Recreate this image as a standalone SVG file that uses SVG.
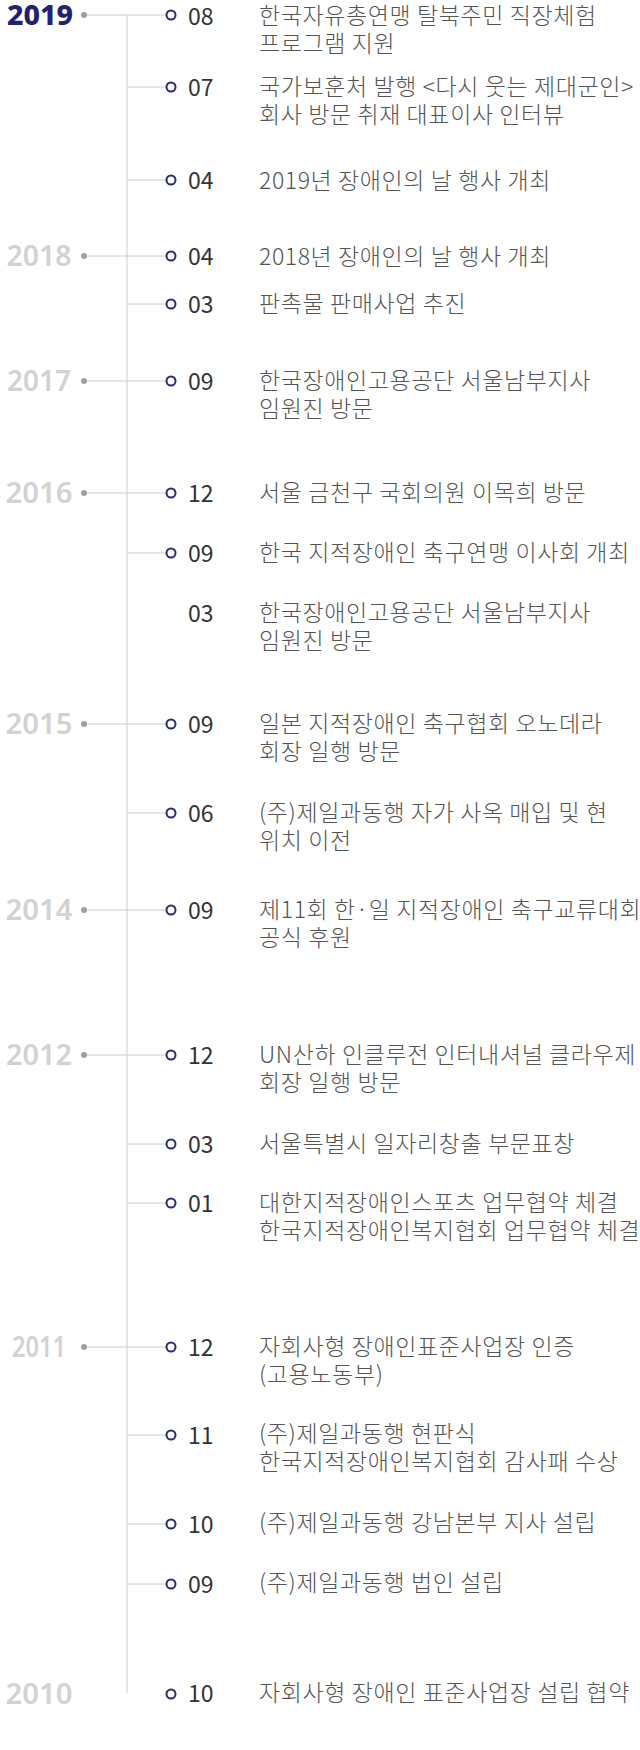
<svg xmlns="http://www.w3.org/2000/svg" width="640" height="1750" viewBox="0 0 640 1750">
<style>
.yr{font-family:"Noto Sans","Liberation Sans",sans-serif;font-weight:600;font-size:28px;fill:#d2d2d2;text-anchor:middle}
.yr.cur{fill:#22226e;font-weight:800}
.mo{font-family:"Noto Sans CJK KR","Noto Sans",sans-serif;font-size:23px;fill:#333}
.ds{font-family:"Noto Sans CJK KR","Noto Sans",sans-serif;font-weight:300;font-size:23px;letter-spacing:0.6px;fill:#555}
.ln{stroke:#cccccc;stroke-width:1;fill:none}
.yd{fill:#a0a0a0}
.mc{fill:#fff;stroke:#2a2a78;stroke-width:2}
</style>
<rect width="640" height="1750" fill="#fff"/>
<g id="connectors">
<line class="ln" x1="127" y1="15" x2="127" y2="1693"/>
<line class="ln" x1="84" y1="15" x2="166" y2="15"/>
<line class="ln" x1="127" y1="87" x2="166" y2="87"/>
<line class="ln" x1="127" y1="180" x2="166" y2="180"/>
<line class="ln" x1="84" y1="256" x2="166" y2="256"/>
<line class="ln" x1="127" y1="304" x2="166" y2="304"/>
<line class="ln" x1="84" y1="381" x2="166" y2="381"/>
<line class="ln" x1="84" y1="493" x2="166" y2="493"/>
<line class="ln" x1="127" y1="553" x2="166" y2="553"/>
<line class="ln" x1="84" y1="724" x2="166" y2="724"/>
<line class="ln" x1="127" y1="813" x2="166" y2="813"/>
<line class="ln" x1="84" y1="910" x2="166" y2="910"/>
<line class="ln" x1="84" y1="1055" x2="166" y2="1055"/>
<line class="ln" x1="127" y1="1144" x2="166" y2="1144"/>
<line class="ln" x1="127" y1="1203" x2="166" y2="1203"/>
<line class="ln" x1="84" y1="1347" x2="166" y2="1347"/>
<line class="ln" x1="127" y1="1435" x2="166" y2="1435"/>
<line class="ln" x1="127" y1="1524" x2="166" y2="1524"/>
<line class="ln" x1="127" y1="1584" x2="166" y2="1584"/>
</g>
<g id="years">
<g id="y2019"><text class="yr cur" x="40" y="25" textLength="66" lengthAdjust="spacingAndGlyphs">2019</text><circle class="yd" cx="84" cy="15" r="3"/></g>
<g id="y2018"><text class="yr" x="39" y="266" textLength="65" lengthAdjust="spacingAndGlyphs">2018</text><circle class="yd" cx="84" cy="256" r="3"/></g>
<g id="y2017"><text class="yr" x="39" y="391" textLength="64" lengthAdjust="spacingAndGlyphs">2017</text><circle class="yd" cx="84" cy="381" r="3"/></g>
<g id="y2016"><text class="yr" x="39" y="503" textLength="67" lengthAdjust="spacingAndGlyphs">2016</text><circle class="yd" cx="84" cy="493" r="3"/></g>
<g id="y2015"><text class="yr" x="39" y="734" textLength="67" lengthAdjust="spacingAndGlyphs">2015</text><circle class="yd" cx="84" cy="724" r="3"/></g>
<g id="y2014"><text class="yr" x="39" y="920" textLength="67" lengthAdjust="spacingAndGlyphs">2014</text><circle class="yd" cx="84" cy="910" r="3"/></g>
<g id="y2012"><text class="yr" x="39" y="1065" textLength="66" lengthAdjust="spacingAndGlyphs">2012</text><circle class="yd" cx="84" cy="1055" r="3"/></g>
<g id="y2011"><text class="yr" x="39" y="1357" textLength="54" lengthAdjust="spacingAndGlyphs">2011</text><circle class="yd" cx="84" cy="1347" r="3"/></g>
<g id="y2010"><text class="yr" x="39" y="1704" textLength="67" lengthAdjust="spacingAndGlyphs">2010</text></g>
</g>
<g id="events">
<g id="e2019-08"><circle class="mc" cx="171" cy="15" r="4.5"/><text class="mo" x="188" y="25">08</text><text class="ds" x="259" y="24">한국자유총연맹 탈북주민 직장체험<tspan x="259" dy="28">프로그램 지원</tspan></text></g>
<g id="e2019-07"><circle class="mc" cx="171" cy="87" r="4.5"/><text class="mo" x="188" y="96">07</text><text class="ds" x="259" y="95">국가보훈처 발행 &lt;다시 웃는 제대군인&gt;<tspan x="259" dy="28">회사 방문 취재 대표이사 인터뷰</tspan></text></g>
<g id="e2019-04"><circle class="mc" cx="171" cy="180" r="4.5"/><text class="mo" x="188" y="189">04</text><text class="ds" x="259" y="189">2019년 장애인의 날 행사 개최</text></g>
<g id="e2018-04"><circle class="mc" cx="171" cy="256" r="4.5"/><text class="mo" x="188" y="265">04</text><text class="ds" x="259" y="265">2018년 장애인의 날 행사 개최</text></g>
<g id="e2018-03"><circle class="mc" cx="171" cy="304" r="4.5"/><text class="mo" x="188" y="313">03</text><text class="ds" x="259" y="312">판촉물 판매사업 추진</text></g>
<g id="e2017-09"><circle class="mc" cx="171" cy="381" r="4.5"/><text class="mo" x="188" y="390">09</text><text class="ds" x="259" y="389">한국장애인고용공단 서울남부지사<tspan x="259" dy="28">임원진 방문</tspan></text></g>
<g id="e2016-12"><circle class="mc" cx="171" cy="493" r="4.5"/><text class="mo" x="188" y="502">12</text><text class="ds" x="259" y="501">서울 금천구 국회의원 이목희 방문</text></g>
<g id="e2016-09"><circle class="mc" cx="171" cy="553" r="4.5"/><text class="mo" x="188" y="562">09</text><text class="ds" x="259" y="561">한국 지적장애인 축구연맹 이사회 개최</text></g>
<g id="e2016-03"><text class="mo" x="188" y="622">03</text><text class="ds" x="259" y="621">한국장애인고용공단 서울남부지사<tspan x="259" dy="28">임원진 방문</tspan></text></g>
<g id="e2015-09"><circle class="mc" cx="171" cy="724" r="4.5"/><text class="mo" x="188" y="733">09</text><text class="ds" x="259" y="732">일본 지적장애인 축구협회 오노데라<tspan x="259" dy="28">회장 일행 방문</tspan></text></g>
<g id="e2015-06"><circle class="mc" cx="171" cy="813" r="4.5"/><text class="mo" x="188" y="822">06</text><text class="ds" x="259" y="821">(주)제일과동행 자가 사옥 매입 및 현<tspan x="259" dy="28">위치 이전</tspan></text></g>
<g id="e2014-09"><circle class="mc" cx="171" cy="910" r="4.5"/><text class="mo" x="188" y="919">09</text><text class="ds" x="259" y="918">제11회 한·일 지적장애인 축구교류대회<tspan x="259" dy="28">공식 후원</tspan></text></g>
<g id="e2012-12"><circle class="mc" cx="171" cy="1055" r="4.5"/><text class="mo" x="188" y="1064">12</text><text class="ds" x="259" y="1063">UN산하 인클루전 인터내셔널 클라우제<tspan x="259" dy="28">회장 일행 방문</tspan></text></g>
<g id="e2012-03"><circle class="mc" cx="171" cy="1144" r="4.5"/><text class="mo" x="188" y="1153">03</text><text class="ds" x="259" y="1152">서울특별시 일자리창출 부문표창</text></g>
<g id="e2012-01"><circle class="mc" cx="171" cy="1203" r="4.5"/><text class="mo" x="188" y="1212">01</text><text class="ds" x="259" y="1211">대한지적장애인스포츠 업무협약 체결<tspan x="259" dy="28">한국지적장애인복지협회 업무협약 체결</tspan></text></g>
<g id="e2011-12"><circle class="mc" cx="171" cy="1347" r="4.5"/><text class="mo" x="188" y="1356">12</text><text class="ds" x="259" y="1355">자회사형 장애인표준사업장 인증<tspan x="259" dy="28">(고용노동부)</tspan></text></g>
<g id="e2011-11"><circle class="mc" cx="171" cy="1435" r="4.5"/><text class="mo" x="188" y="1444">11</text><text class="ds" x="259" y="1442">(주)제일과동행 현판식<tspan x="259" dy="28">한국지적장애인복지협회 감사패 수상</tspan></text></g>
<g id="e2011-10"><circle class="mc" cx="171" cy="1524" r="4.5"/><text class="mo" x="188" y="1533">10</text><text class="ds" x="259" y="1531">(주)제일과동행 강남본부 지사 설립</text></g>
<g id="e2011-09"><circle class="mc" cx="171" cy="1584" r="4.5"/><text class="mo" x="188" y="1593">09</text><text class="ds" x="259" y="1591">(주)제일과동행 법인 설립</text></g>
<g id="e2010-10"><circle class="mc" cx="171" cy="1694" r="4.5"/><text class="mo" x="188" y="1702">10</text><text class="ds" x="259" y="1701">자회사형 장애인 표준사업장 설립 협약</text></g>
</g>
</svg>
